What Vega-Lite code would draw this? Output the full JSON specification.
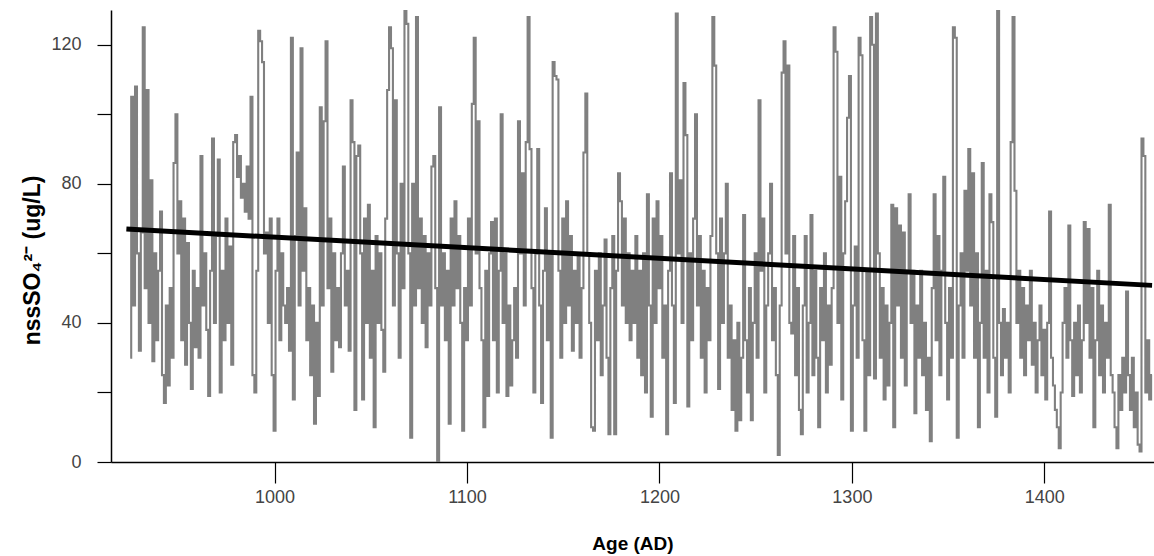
{
  "$schema": "https://vega.github.io/schema/vega-lite/v6.json",
  "width": 1043,
  "height": 452,
  "autosize": {"type": "none"},
  "padding": {"left": 111, "top": 10, "right": 0, "bottom": 94},
  "background": "white",
  "config": {"view": {"stroke": null}},
  "datasets": {
    "series": [
{"year":925,"v":30},{"year":926,"v":105},{"year":927,"v":45},{"year":928,"v":108},{"year":929,"v":60},{"year":930,"v":32},{"year":931,"v":66},{"year":932,"v":125},{"year":933,"v":50},{"year":934,"v":107},
{"year":935,"v":40},{"year":936,"v":81},{"year":937,"v":29},{"year":938,"v":60},{"year":939,"v":35},{"year":940,"v":55},{"year":941,"v":72},{"year":942,"v":25},{"year":943,"v":17},{"year":944,"v":45},
{"year":945,"v":22},{"year":946,"v":50},{"year":947,"v":30},{"year":948,"v":86},{"year":949,"v":100},{"year":950,"v":60},{"year":951,"v":75},{"year":952,"v":35},{"year":953,"v":70},{"year":954,"v":28},
{"year":955,"v":63},{"year":956,"v":40},{"year":957,"v":21},{"year":958,"v":55},{"year":959,"v":33},{"year":960,"v":50},{"year":961,"v":30},{"year":962,"v":88},{"year":963,"v":45},{"year":964,"v":60},
{"year":965,"v":38},{"year":966,"v":19},{"year":967,"v":55},{"year":968,"v":93},{"year":969,"v":40},{"year":970,"v":65},{"year":971,"v":87},{"year":972,"v":20},{"year":973,"v":55},{"year":974,"v":35},
{"year":975,"v":70},{"year":976,"v":40},{"year":977,"v":62},{"year":978,"v":28},{"year":979,"v":92},{"year":980,"v":94},{"year":981,"v":82},{"year":982,"v":88},{"year":983,"v":76},{"year":984,"v":80},
{"year":985,"v":72},{"year":986,"v":85},{"year":987,"v":70},{"year":988,"v":105},{"year":989,"v":25},{"year":990,"v":20},{"year":991,"v":55},{"year":992,"v":124},{"year":993,"v":121},{"year":994,"v":115},
{"year":995,"v":60},{"year":996,"v":66},{"year":997,"v":40},{"year":998,"v":70},{"year":999,"v":25},{"year":1000,"v":9},{"year":1001,"v":55},{"year":1002,"v":70},{"year":1003,"v":35},{"year":1004,"v":60},
{"year":1005,"v":45},{"year":1006,"v":40},{"year":1007,"v":50},{"year":1008,"v":32},{"year":1009,"v":122},{"year":1010,"v":18},{"year":1011,"v":65},{"year":1012,"v":89},{"year":1013,"v":45},{"year":1014,"v":119},
{"year":1015,"v":55},{"year":1016,"v":73},{"year":1017,"v":35},{"year":1018,"v":50},{"year":1019,"v":25},{"year":1020,"v":45},{"year":1021,"v":11},{"year":1022,"v":40},{"year":1023,"v":19},{"year":1024,"v":102},
{"year":1025,"v":45},{"year":1026,"v":98},{"year":1027,"v":121},{"year":1028,"v":50},{"year":1029,"v":70},{"year":1030,"v":26},{"year":1031,"v":60},{"year":1032,"v":35},{"year":1033,"v":50},{"year":1034,"v":33},
{"year":1035,"v":60},{"year":1036,"v":85},{"year":1037,"v":45},{"year":1038,"v":55},{"year":1039,"v":32},{"year":1040,"v":104},{"year":1041,"v":92},{"year":1042,"v":15},{"year":1043,"v":88},{"year":1044,"v":91},
{"year":1045,"v":60},{"year":1046,"v":18},{"year":1047,"v":70},{"year":1048,"v":40},{"year":1049,"v":74},{"year":1050,"v":30},{"year":1051,"v":55},{"year":1052,"v":10},{"year":1053,"v":65},{"year":1054,"v":40},
{"year":1055,"v":60},{"year":1056,"v":38},{"year":1057,"v":26},{"year":1058,"v":70},{"year":1059,"v":107},{"year":1060,"v":125},{"year":1061,"v":119},{"year":1062,"v":45},{"year":1063,"v":104},{"year":1064,"v":60},
{"year":1065,"v":30},{"year":1066,"v":80},{"year":1067,"v":50},{"year":1068,"v":130},{"year":1069,"v":126},{"year":1070,"v":60},{"year":1071,"v":7},{"year":1072,"v":80},{"year":1073,"v":45},{"year":1074,"v":128},
{"year":1075,"v":50},{"year":1076,"v":70},{"year":1077,"v":40},{"year":1078,"v":65},{"year":1079,"v":33},{"year":1080,"v":60},{"year":1081,"v":45},{"year":1082,"v":85},{"year":1083,"v":88},{"year":1084,"v":50},
{"year":1085,"v":0},{"year":1086,"v":102},{"year":1087,"v":45},{"year":1088,"v":60},{"year":1089,"v":35},{"year":1090,"v":55},{"year":1091,"v":11},{"year":1092,"v":70},{"year":1093,"v":45},{"year":1094,"v":75},
{"year":1095,"v":50},{"year":1096,"v":65},{"year":1097,"v":40},{"year":1098,"v":9},{"year":1099,"v":50},{"year":1100,"v":35},{"year":1101,"v":70},{"year":1102,"v":45},{"year":1103,"v":103},{"year":1104,"v":122},
{"year":1105,"v":60},{"year":1106,"v":98},{"year":1107,"v":50},{"year":1108,"v":35},{"year":1109,"v":10},{"year":1110,"v":55},{"year":1111,"v":19},{"year":1112,"v":60},{"year":1113,"v":69},{"year":1114,"v":35},
{"year":1115,"v":70},{"year":1116,"v":20},{"year":1117,"v":55},{"year":1118,"v":100},{"year":1119,"v":40},{"year":1120,"v":60},{"year":1121,"v":19},{"year":1122,"v":45},{"year":1123,"v":22},{"year":1124,"v":35},
{"year":1125,"v":50},{"year":1126,"v":30},{"year":1127,"v":98},{"year":1128,"v":60},{"year":1129,"v":83},{"year":1130,"v":45},{"year":1131,"v":92},{"year":1132,"v":128},{"year":1133,"v":90},{"year":1134,"v":50},
{"year":1135,"v":20},{"year":1136,"v":60},{"year":1137,"v":90},{"year":1138,"v":45},{"year":1139,"v":17},{"year":1140,"v":55},{"year":1141,"v":73},{"year":1142,"v":35},{"year":1143,"v":60},{"year":1144,"v":7},
{"year":1145,"v":115},{"year":1146,"v":111},{"year":1147,"v":110},{"year":1148,"v":55},{"year":1149,"v":30},{"year":1150,"v":70},{"year":1151,"v":40},{"year":1152,"v":75},{"year":1153,"v":45},{"year":1154,"v":65},
{"year":1155,"v":32},{"year":1156,"v":55},{"year":1157,"v":40},{"year":1158,"v":60},{"year":1159,"v":30},{"year":1160,"v":50},{"year":1161,"v":89},{"year":1162,"v":106},{"year":1163,"v":60},{"year":1164,"v":40},
{"year":1165,"v":10},{"year":1166,"v":9},{"year":1167,"v":55},{"year":1168,"v":35},{"year":1169,"v":60},{"year":1170,"v":25},{"year":1171,"v":45},{"year":1172,"v":64},{"year":1173,"v":30},{"year":1174,"v":8},
{"year":1175,"v":50},{"year":1176,"v":65},{"year":1177,"v":8},{"year":1178,"v":55},{"year":1179,"v":83},{"year":1180,"v":75},{"year":1181,"v":45},{"year":1182,"v":70},{"year":1183,"v":40},{"year":1184,"v":60},
{"year":1185,"v":35},{"year":1186,"v":55},{"year":1187,"v":40},{"year":1188,"v":65},{"year":1189,"v":30},{"year":1190,"v":55},{"year":1191,"v":25},{"year":1192,"v":60},{"year":1193,"v":20},{"year":1194,"v":77},
{"year":1195,"v":45},{"year":1196,"v":13},{"year":1197,"v":70},{"year":1198,"v":40},{"year":1199,"v":75},{"year":1200,"v":50},{"year":1201,"v":65},{"year":1202,"v":30},{"year":1203,"v":45},{"year":1204,"v":8},
{"year":1205,"v":55},{"year":1206,"v":83},{"year":1207,"v":45},{"year":1208,"v":17},{"year":1209,"v":129},{"year":1210,"v":60},{"year":1211,"v":81},{"year":1212,"v":40},{"year":1213,"v":109},{"year":1214,"v":94},
{"year":1215,"v":16},{"year":1216,"v":60},{"year":1217,"v":35},{"year":1218,"v":70},{"year":1219,"v":100},{"year":1220,"v":45},{"year":1221,"v":65},{"year":1222,"v":30},{"year":1223,"v":55},{"year":1224,"v":20},
{"year":1225,"v":50},{"year":1226,"v":35},{"year":1227,"v":65},{"year":1228,"v":128},{"year":1229,"v":114},{"year":1230,"v":60},{"year":1231,"v":21},{"year":1232,"v":70},{"year":1233,"v":40},{"year":1234,"v":60},
{"year":1235,"v":80},{"year":1236,"v":30},{"year":1237,"v":45},{"year":1238,"v":15},{"year":1239,"v":35},{"year":1240,"v":9},{"year":1241,"v":40},{"year":1242,"v":12},{"year":1243,"v":30},{"year":1244,"v":71},
{"year":1245,"v":35},{"year":1246,"v":20},{"year":1247,"v":50},{"year":1248,"v":12},{"year":1249,"v":40},{"year":1250,"v":60},{"year":1251,"v":30},{"year":1252,"v":104},{"year":1253,"v":55},{"year":1254,"v":70},
{"year":1255,"v":20},{"year":1256,"v":45},{"year":1257,"v":60},{"year":1258,"v":80},{"year":1259,"v":35},{"year":1260,"v":50},{"year":1261,"v":25},{"year":1262,"v":2},{"year":1263,"v":45},{"year":1264,"v":112},
{"year":1265,"v":121},{"year":1266,"v":60},{"year":1267,"v":114},{"year":1268,"v":40},{"year":1269,"v":37},{"year":1270,"v":65},{"year":1271,"v":25},{"year":1272,"v":50},{"year":1273,"v":15},{"year":1274,"v":8},
{"year":1275,"v":45},{"year":1276,"v":65},{"year":1277,"v":20},{"year":1278,"v":40},{"year":1279,"v":71},{"year":1280,"v":25},{"year":1281,"v":55},{"year":1282,"v":30},{"year":1283,"v":10},{"year":1284,"v":50},
{"year":1285,"v":35},{"year":1286,"v":60},{"year":1287,"v":20},{"year":1288,"v":45},{"year":1289,"v":28},{"year":1290,"v":50},{"year":1291,"v":125},{"year":1292,"v":118},{"year":1293,"v":40},{"year":1294,"v":82},
{"year":1295,"v":18},{"year":1296,"v":60},{"year":1297,"v":75},{"year":1298,"v":99},{"year":1299,"v":111},{"year":1300,"v":9},{"year":1301,"v":45},{"year":1302,"v":62},{"year":1303,"v":30},{"year":1304,"v":122},
{"year":1305,"v":117},{"year":1306,"v":35},{"year":1307,"v":9},{"year":1308,"v":55},{"year":1309,"v":25},{"year":1310,"v":128},{"year":1311,"v":120},{"year":1312,"v":24},{"year":1313,"v":129},{"year":1314,"v":60},
{"year":1315,"v":30},{"year":1316,"v":50},{"year":1317,"v":18},{"year":1318,"v":45},{"year":1319,"v":22},{"year":1320,"v":40},{"year":1321,"v":74},{"year":1322,"v":10},{"year":1323,"v":73},{"year":1324,"v":45},
{"year":1325,"v":68},{"year":1326,"v":30},{"year":1327,"v":66},{"year":1328,"v":22},{"year":1329,"v":55},{"year":1330,"v":77},{"year":1331,"v":40},{"year":1332,"v":55},{"year":1333,"v":14},{"year":1334,"v":45},
{"year":1335,"v":30},{"year":1336,"v":55},{"year":1337,"v":25},{"year":1338,"v":40},{"year":1339,"v":15},{"year":1340,"v":30},{"year":1341,"v":6},{"year":1342,"v":50},{"year":1343,"v":77},{"year":1344,"v":35},
{"year":1345,"v":65},{"year":1346,"v":25},{"year":1347,"v":55},{"year":1348,"v":82},{"year":1349,"v":40},{"year":1350,"v":18},{"year":1351,"v":50},{"year":1352,"v":30},{"year":1353,"v":125},{"year":1354,"v":122},
{"year":1355,"v":7},{"year":1356,"v":45},{"year":1357,"v":60},{"year":1358,"v":30},{"year":1359,"v":78},{"year":1360,"v":55},{"year":1361,"v":90},{"year":1362,"v":45},{"year":1363,"v":83},{"year":1364,"v":30},
{"year":1365,"v":60},{"year":1366,"v":10},{"year":1367,"v":40},{"year":1368,"v":86},{"year":1369,"v":30},{"year":1370,"v":55},{"year":1371,"v":20},{"year":1372,"v":77},{"year":1373,"v":69},{"year":1374,"v":30},
{"year":1375,"v":13},{"year":1376,"v":130},{"year":1377,"v":40},{"year":1378,"v":25},{"year":1379,"v":44},{"year":1380,"v":30},{"year":1381,"v":40},{"year":1382,"v":20},{"year":1383,"v":92},{"year":1384,"v":128},
{"year":1385,"v":78},{"year":1386,"v":40},{"year":1387,"v":55},{"year":1388,"v":30},{"year":1389,"v":50},{"year":1390,"v":25},{"year":1391,"v":45},{"year":1392,"v":35},{"year":1393,"v":55},{"year":1394,"v":28},
{"year":1395,"v":40},{"year":1396,"v":20},{"year":1397,"v":35},{"year":1398,"v":45},{"year":1399,"v":25},{"year":1400,"v":38},{"year":1401,"v":18},{"year":1402,"v":40},{"year":1403,"v":72},{"year":1404,"v":30},
{"year":1405,"v":22},{"year":1406,"v":15},{"year":1407,"v":10},{"year":1408,"v":4},{"year":1409,"v":20},{"year":1410,"v":40},{"year":1411,"v":50},{"year":1412,"v":30},{"year":1413,"v":68},{"year":1414,"v":35},
{"year":1415,"v":19},{"year":1416,"v":40},{"year":1417,"v":25},{"year":1418,"v":45},{"year":1419,"v":20},{"year":1420,"v":35},{"year":1421,"v":69},{"year":1422,"v":40},{"year":1423,"v":67},{"year":1424,"v":30},
{"year":1425,"v":50},{"year":1426,"v":10},{"year":1427,"v":35},{"year":1428,"v":55},{"year":1429,"v":25},{"year":1430,"v":45},{"year":1431,"v":20},{"year":1432,"v":40},{"year":1433,"v":30},{"year":1434,"v":74},
{"year":1435,"v":25},{"year":1436,"v":20},{"year":1437,"v":10},{"year":1438,"v":4},{"year":1439,"v":25},{"year":1440,"v":15},{"year":1441,"v":30},{"year":1442,"v":20},{"year":1443,"v":49},{"year":1444,"v":25},
{"year":1445,"v":15},{"year":1446,"v":30},{"year":1447,"v":10},{"year":1448,"v":20},{"year":1449,"v":5},{"year":1450,"v":3},{"year":1451,"v":93},{"year":1452,"v":88},{"year":1453,"v":20},{"year":1454,"v":35},
{"year":1455,"v":18},{"year":1456,"v":25}
    ],
    "trend": [
      {"year": 923, "v": 67},
      {"year": 1456, "v": 50.8}
    ]
  },
  "layer": [
    {
      "data": {"name": "series"},
      "mark": {"type": "line", "color": "#808080", "strokeWidth": 2.1, "interpolate": "step", "clip": true},
      "encoding": {
        "x": {
          "field": "year", "type": "quantitative",
          "scale": {"domain": [915, 1457], "nice": false, "zero": false},
          "axis": {
            "values": [1000, 1100, 1200, 1300, 1400],
            "format": "d",
            "title": "Age (AD)",
            "grid": false,
            "domainColor": "#000000", "domainWidth": 1.5,
            "tickColor": "#000000", "tickSize": 21, "tickWidth": 1.2,
            "labelFont": "Liberation Sans, Arial, sans-serif",
            "labelFontSize": 18, "labelColor": "#444444", "labelPadding": 5,
            "titleFont": "Liberation Sans, Arial, sans-serif",
            "titleFontSize": 19, "titleFontWeight": "bold", "titleColor": "#000000",
            "titleBaseline": "middle", "titleY": 81
          }
        },
        "y": {
          "field": "v", "type": "quantitative",
          "scale": {"domain": [0, 130], "nice": false},
          "axis": {
            "values": [0, 20, 40, 60, 80, 100, 120],
            "labelExpr": "datum.value % 40 === 0 ? datum.label : ''",
            "title": "nssSO₄²⁻ (ug/L)",
            "grid": false,
            "domainColor": "#000000", "domainWidth": 1.5,
            "tickColor": "#000000", "tickSize": 14, "tickWidth": 1.2,
            "labelFont": "Liberation Sans, Arial, sans-serif",
            "labelFontSize": 18, "labelColor": "#444444", "labelPadding": 16,
            "titleFont": "Liberation Sans, Arial, sans-serif",
            "titleFontSize": 23, "titleFontWeight": "bold", "titleColor": "#000000",
            "titleAngle": -90, "titleBaseline": "alphabetic", "titleAlign": "center",
            "titleX": -72, "titleY": 250
          }
        }
      }
    },
    {
      "data": {"name": "trend"},
      "mark": {"type": "line", "color": "#000000", "strokeWidth": 5},
      "encoding": {
        "x": {"field": "year", "type": "quantitative"},
        "y": {"field": "v", "type": "quantitative"}
      }
    }
  ]
}
